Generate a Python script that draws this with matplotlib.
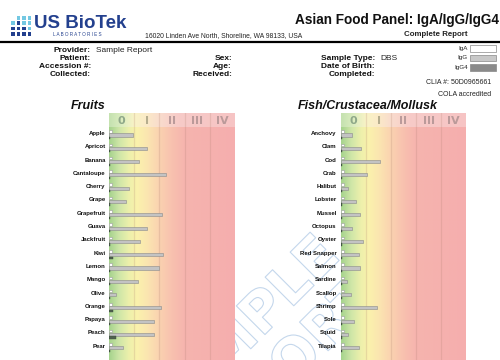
import matplotlib
matplotlib.use('Agg')
import matplotlib.pyplot as plt
import matplotlib.patheffects as pe
from matplotlib.colors import LinearSegmentedColormap
from matplotlib.patches import Rectangle
from matplotlib.lines import Line2D
import numpy as np

# ---------------- data ----------------
fruits = ["Apple", "Apricot", "Banana", "Cantaloupe", "Cherry", "Grape", "Grapefruit",
          "Guava", "Jackfruit", "Kiwi", "Lemon", "Mango", "Olive", "Orange", "Papaya",
          "Peach", "Pear"]
fruit_iga = [0.12, 0.12, 0.12, 0.12, 0.12, 0.12, 0.12, 0.12, 0.12, 0.12, 0.12, 0.12,
             0.12, 0.12, 0.12, 0.12, 0.12]
fruit_igg = [0.96, 1.50, 1.20, 2.25, 0.80, 0.66, 2.09, 1.50, 1.23, 2.13, 2.00, 1.15,
             0.27, 2.05, 1.80, 1.80, 0.57]
fruit_igg4 = [0.04, 0.04, 0.04, 0.04, 0.04, 0.04, 0.04, 0.04, 0.04, 0.15, 0.04, 0.04,
              0.04, 0.15, 0.04, 0.28, 0.04]

fish = ["Anchovy", "Clam", "Cod", "Crab", "Halibut", "Lobster", "Mussel", "Octopus",
        "Oyster", "Red Snapper", "Salmon", "Sardine", "Scallop", "Shrimp", "Sole",
        "Squid", "Tilapia"]
fish_iga = [0.12, 0.12, 0.12, 0.12, 0.12, 0.12, 0.12, 0.12, 0.12, 0.12, 0.12, 0.12,
            0.12, 0.12, 0.12, 0.12, 0.12]
fish_igg = [0.43, 0.79, 1.56, 1.03, 0.29, 0.59, 0.76, 0.43, 0.87, 0.73, 0.76, 0.23,
            0.39, 1.44, 0.53, 0.27, 0.73]
fish_igg4 = [0.04, 0.04, 0.04, 0.04, 0.04, 0.04, 0.04, 0.04, 0.04, 0.04, 0.04, 0.04,
             0.04, 0.04, 0.04, 0.04, 0.04]

classes = ["0", "I", "II", "III", "IV"]
class_colors = ["#8fa889", "#b5ad8e", "#bb9b9b", "#bb9a9a", "#bb9a9a"]

# ---------------- figure ----------------
W, H = 500, 360
fig = plt.figure(figsize=(5, 3.6), dpi=100)
FONT = ['Liberation Sans', 'DejaVu Sans']
plt.rcParams['font.family'] = FONT


def P(x, y):
    return x / W, 1 - y / H


def ftext(x, y, s, **kw):
    fx, fy = P(x, y)
    kw.setdefault('va', 'center')
    return fig.text(fx, fy, s, **kw)


# watermark, placed beneath the panels
wx, wy = P(262, 356)
fig.text(wx, wy, "SAMPLE\nREPORT", rotation=45, ha='center', va='center', fontsize=40,
         fontweight='bold', color='none', linespacing=1.05, rotation_mode='anchor',
         family=['DejaVu Sans'], zorder=-5,
         path_effects=[pe.withStroke(linewidth=0.8, foreground='#c4d7ec')])

# logo squares
navy = '#23408e'
cyan = '#74c8e2'
logo = [
    (1, 0, cyan), (2, 0, cyan), (3, 0, cyan),
    (0, 1, cyan), (1, 1, navy), (2, 1, cyan), (3, 1, cyan),
    (0, 2, navy), (1, 2, navy), (2, 2, navy), (3, 2, cyan),
    (0, 3, navy), (1, 3, navy), (2, 3, navy), (3, 3, navy),
]
for c, r, col in logo:
    x0, y0 = 11 + c * 5.5, 16 + r * 5.2
    fx, fy = P(x0, y0 + 4)
    fig.patches.append(Rectangle((fx, fy), 3.8 / W, 3.8 / H, transform=fig.transFigure,
                                 facecolor=col, edgecolor='none'))

ftext(34, 23, "US BioTek", fontsize=13.5, fontweight='bold', color=navy, ha='left')
ftext(53, 34, "L A B O R A T O R I E S", fontsize=3.3, color=navy, ha='left')
ftext(145, 36, "16020 Linden Ave North, Shoreline, WA 98133, USA", fontsize=4.9,
      color='#222222', ha='left')

ftext(499, 20, "Asian Food Panel: IgA/IgG/IgG4", fontsize=9.8, fontweight='bold',
      ha='right', color='#111111')
ftext(468, 35, "Complete Report", fontsize=5.7, fontweight='bold', ha='right',
      color='#222222')

fig.lines.append(Line2D([0, 1], [1 - 42 / H, 1 - 42 / H], transform=fig.transFigure,
                        color='black', lw=1.6))

# info block
info_left = [(51, "Provider:", "Sample Report"), (59, "Patient:", ""),
             (67, "Accession #:", ""), (75, "Collected:", "")]
for y, lab, val in info_left:
    ftext(91, y, lab, fontsize=6, fontweight='bold', ha='right', color='#111111')
    if val:
        ftext(96, y, val, fontsize=6, ha='left', color='#222222')
for y, lab in [(59, "Sex:"), (67, "Age:"), (75, "Received:")]:
    ftext(232, y, lab, fontsize=6, fontweight='bold', ha='right', color='#111111')
for y, lab, val in [(59, "Sample Type:", "DBS"), (67, "Date of Birth:", ""),
                    (75, "Completed:", "")]:
    ftext(375, y, lab, fontsize=6, fontweight='bold', ha='right', color='#111111')
    if val:
        ftext(380, y, val, fontsize=6, ha='left', color='#222222')

# legend
for y, lab, col in [(48.5, "IgA", "white"), (58, "IgG", "#c8c8c8"), (67.5, "IgG4", "#8a8a8a")]:
    ftext(468, y, lab, fontsize=4.5, ha='right', color='#222222')
    fx, fy = P(470, y + 3.3)
    fig.patches.append(Rectangle((fx, fy), 26 / W, 6.6 / H, transform=fig.transFigure,
                                 facecolor=col, edgecolor='#888888', lw=0.5))

ftext(491, 83, "CLIA #: 50D0965661", fontsize=5, ha='right', color='#222222')
ftext(491, 94, "COLA accredited", fontsize=5, ha='right', color='#222222')

# ---------------- panels ----------------
body_cmap = LinearSegmentedColormap.from_list('body', [
    (0.00, '#a6d38d'), (0.08, '#cfe6a8'), (0.16, '#eef0ab'), (0.22, '#faf2ac'),
    (0.30, '#fbe6b0'), (0.40, '#fad2b0'), (0.50, '#f8c1af'), (0.60, '#f6b4ae'),
    (1.00, '#f5aeae')])
head_cmap = LinearSegmentedColormap.from_list('head', [
    (0.00, '#c5e2b0'), (0.10, '#dcedc0'), (0.20, '#f9f3c6'), (0.30, '#fbeac8'),
    (0.40, '#f9dccd'), (0.55, '#f7cbc8'), (1.00, '#f6c4c4')])

ROW_PX = 13.3
top_row = (113 - 135) / ROW_PX
bot_row = (360 - 135) / ROW_PX
band_bot = (127.5 - 135) / ROW_PX


def panel(x_left, x_right, title, title_right, names, iga, igg, igg4, lab_pad):
    fl, fb = P(x_left, 360)
    ax = fig.add_axes([fl, 0, (x_right - x_left) / W, 1 - 113 / H])
    ax.set_xlim(0, 5)
    ax.set_ylim(bot_row, top_row)
    ax.axis('off')
    grad = np.linspace(0, 1, 400).reshape(1, -1)
    ax.imshow(grad, extent=(0, 5, bot_row, band_bot), aspect='auto', cmap=body_cmap,
              zorder=0, interpolation='bilinear')
    ax.imshow(grad, extent=(0, 5, band_bot, top_row), aspect='auto', cmap=head_cmap,
              zorder=0, interpolation='bilinear')
    for k in range(1, 5):
        ax.axvline(k, color='#b08070', alpha=0.22, lw=0.9, zorder=1)
    for k, (c, col) in enumerate(zip(classes, class_colors)):
        ax.text(k + 0.5, (top_row + band_bot) / 2 + 0.05, c, ha='center', va='center',
                fontsize=8, fontweight='bold', color=col, family=['DejaVu Sans'])
    y = np.arange(len(names))
    ax.barh(y - 0.26, iga, height=0.19, left=0, color='white', edgecolor='#9a9a9a',
            lw=0.4, zorder=3)
    ax.barh(y, igg, height=0.24, left=0, color='#c3c3c3', edgecolor='#8a8a8a',
            lw=0.4, zorder=3)
    ax.barh(y + 0.23, igg4, height=0.16, left=0, color='#4f604f', edgecolor='#3c4c3c',
            lw=0.3, zorder=3)
    for yi, n in zip(y, names):
        ax.text(-lab_pad, yi - 0.12, n, ha='right', va='center', fontsize=4.3,
                fontweight='bold', color='#111111', clip_on=False)
    ftext(title_right, 106, title, fontsize=9, fontweight='bold', style='italic',
          ha='right', color='#111111')
    return ax


panel(109, 235, "Fruits", 106, fruits, fruit_iga, fruit_igg, fruit_igg4, 0.13)
panel(341, 466, "Fish/Crustacea/Mollusk", 438, fish, fish_iga, fish_igg, fish_igg4, 0.17)

fig.savefig('out.png', dpi=100)
